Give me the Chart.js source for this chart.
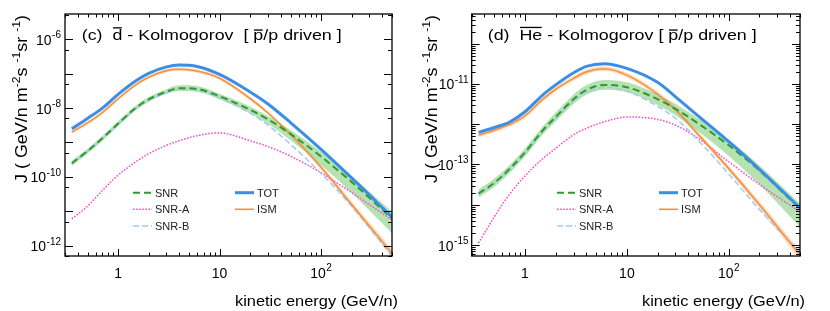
<!DOCTYPE html>
<html>
<head>
<meta charset="utf-8">
<script src="https://cdn.jsdelivr.net/npm/chart.js@4.4.1/dist/chart.umd.min.js"></script>
<style>
  html, body { margin: 0; padding: 0; background: #fff; }
  #wrap { position: relative; width: 830px; height: 311px; }
  .panel { position: absolute; top: 0; width: 415px; height: 311px; }
</style>
</head>
<body>
<div id="wrap">
  <div class="panel" style="left:0"><canvas id="chartC" width="415" height="311"></canvas></div>
  <div class="panel" style="left:415px"><canvas id="chartD" width="415" height="311"></canvas></div>
</div>
<script>
// kinetic energy grid (GeV/n)
const energy = [0.35, 0.5, 0.7, 1, 1.5, 2, 3, 4, 6, 10, 20, 30, 50, 100, 200, 500];

// (c) anti-deuteron, Kolmogorov, pbar/p driven
const dTot   = [2.5e-9, 5.0e-9, 1.0e-8, 2.5e-8, 6.2e-8, 1.02e-7, 1.58e-7, 1.78e-7, 1.62e-7, 9.5e-8, 2.95e-8, 1.32e-8, 3.8e-9, 6.3e-10, 9.3e-11, 6.8e-12];
const dIsm   = [2.0e-9, 3.7e-9, 7.4e-9, 1.86e-8, 4.8e-8, 7.9e-8, 1.23e-7, 1.35e-7, 1.2e-7, 7.4e-8, 1.9e-8, 7.2e-9, 1.74e-9, 1.9e-10, 1.58e-11, 5.9e-13];
const dIsmHi = [2.24e-9, 4.2e-9, 8.3e-9, 2.1e-8, 5.4e-8, 8.9e-8, 1.38e-7, 1.51e-7, 1.35e-7, 8.3e-8, 2.14e-8, 8.1e-9, 1.95e-9, 2.24e-10, 1.95e-11, 7.8e-13];
const dIsmLo = [1.78e-9, 3.3e-9, 6.6e-9, 1.66e-8, 4.3e-8, 7.1e-8, 1.1e-7, 1.2e-7, 1.07e-7, 6.6e-8, 1.7e-8, 6.5e-9, 1.55e-9, 1.62e-10, 1.29e-11, 4.5e-13];
const dSnr   = [2.5e-10, 5.6e-10, 1.32e-9, 3.5e-9, 1.02e-8, 1.78e-8, 3.0e-8, 3.8e-8, 3.6e-8, 2.2e-8, 8.9e-9, 4.7e-9, 1.78e-9, 3.9e-10, 7.1e-11, 6.2e-12];
const dSnrHi = [2.95e-10, 6.6e-10, 1.55e-9, 4.2e-9, 1.2e-8, 2.1e-8, 3.55e-8, 4.6e-8, 4.4e-8, 2.6e-8, 1.1e-8, 5.9e-9, 2.3e-9, 5.4e-10, 1.05e-10, 9.8e-12];
const dSnrLo = [2.1e-10, 4.8e-10, 1.12e-9, 3.0e-9, 8.7e-9, 1.51e-8, 2.6e-8, 3.16e-8, 3.0e-8, 1.82e-8, 7.1e-9, 3.5e-9, 1.17e-9, 2.2e-10, 3.4e-11, 2.3e-12];
const dSnrA  = [6.0e-12, 1.41e-11, 4.0e-11, 1.12e-10, 2.75e-10, 4.7e-10, 8.3e-10, 1.12e-9, 1.58e-9, 1.9e-9, 1.12e-9, 7.6e-10, 4.0e-10, 1.32e-10, 3.5e-11, 5.6e-12];
const dSnrB  = [2.4e-10, 5.4e-10, 1.26e-9, 3.4e-9, 9.8e-9, 1.66e-8, 2.8e-8, 3.5e-8, 3.3e-8, 1.95e-8, 7.1e-9, 3.2e-9, 8.9e-10, 1.26e-10, 1.41e-11, 5.0e-13];

// (d) anti-helium, Kolmogorov, pbar/p driven
const heTot   = [6.3e-13, 8.3e-13, 1.12e-12, 2.04e-12, 5.4e-12, 9.5e-12, 1.9e-11, 2.75e-11, 3.2e-11, 2.45e-11, 1.1e-11, 4.8e-12, 1.62e-12, 3.7e-13, 7.6e-14, 8.3e-15];
const heIsm   = [5.4e-13, 7.1e-13, 9.8e-13, 1.62e-12, 4.2e-12, 7.4e-12, 1.38e-11, 2.0e-11, 2.4e-11, 1.66e-11, 5.6e-12, 2.3e-12, 5.6e-13, 7.9e-14, 1.0e-14, 5.6e-16];
const heIsmHi = [6.2e-13, 8.1e-13, 1.12e-12, 1.86e-12, 4.8e-12, 8.5e-12, 1.58e-11, 2.3e-11, 2.75e-11, 1.9e-11, 6.5e-12, 2.6e-12, 6.5e-13, 9.3e-14, 1.23e-14, 7.4e-16];
const heIsmLo = [4.7e-13, 6.2e-13, 8.5e-13, 1.41e-12, 3.6e-12, 6.5e-12, 1.2e-11, 1.74e-11, 2.1e-11, 1.45e-11, 4.9e-12, 2.0e-12, 4.9e-13, 6.8e-14, 8.1e-15, 4.3e-16];
const heSnr   = [1.9e-14, 3.5e-14, 7.6e-14, 2.0e-13, 7.1e-13, 1.51e-12, 4.2e-12, 7.1e-12, 9.5e-12, 8.3e-12, 4.2e-12, 2.4e-12, 1.05e-12, 3.0e-13, 7.1e-14, 7.9e-15];
const heSnrHi = [2.4e-14, 4.5e-14, 9.5e-14, 2.5e-13, 8.9e-13, 1.95e-12, 5.5e-12, 9.3e-12, 1.26e-11, 1.1e-11, 5.5e-12, 3.2e-12, 1.41e-12, 4.1e-13, 9.5e-14, 1.07e-14];
const heSnrLo = [1.51e-14, 2.8e-14, 6.0e-14, 1.58e-13, 5.6e-13, 1.17e-12, 3.2e-12, 5.4e-12, 7.2e-12, 6.3e-12, 3.0e-12, 1.66e-12, 6.6e-13, 1.62e-13, 3.2e-14, 2.8e-15];
const heSnrA  = [1.12e-15, 5.0e-15, 1.78e-14, 5.2e-14, 1.41e-13, 2.5e-13, 5.5e-13, 7.9e-13, 1.15e-12, 1.51e-12, 1.32e-12, 9.5e-13, 4.5e-13, 1.17e-13, 3.2e-14, 6.6e-15];
const heSnrB  = [1.82e-14, 3.4e-14, 7.2e-14, 1.9e-13, 6.6e-13, 1.41e-12, 3.8e-12, 6.3e-12, 8.3e-12, 6.6e-12, 2.8e-12, 1.41e-12, 4.0e-13, 5.8e-14, 7.6e-15, 6.6e-16];

// tick labels
const xTickVals = [1, 10, 100];
const xTickBase = ['1', '10', '10'];
const xTickExp  = ['', '', '2'];
const dYTickVals  = [1e-12, 1e-10, 1e-8, 1e-6];
const dYTickExp   = ['-12', '-10', '-8', '-6'];
const heYTickVals = [1e-15, 1e-13, 1e-11];
const heYTickExp  = ['-15', '-13', '-11'];

const FONT = '"Liberation Sans", Arial, Helvetica, sans-serif';

function textW(ctx, t, size) {
  ctx.font = size + 'px ' + FONT;
  return ctx.measureText(t).width;
}

// "10" with raised exponent
function drawPow(ctx, base, exp, x, y, align) {
  const wb = textW(ctx, base, 14);
  const we = exp ? textW(ctx, exp, 10) + 0.5 : 0;
  const w = wb + we;
  const x0 = align === 'right' ? x - w : x - w / 2;
  ctx.textAlign = 'left';
  ctx.textBaseline = 'alphabetic';
  ctx.font = '14px ' + FONT;
  ctx.fillText(base, x0, y);
  if (exp) {
    ctx.font = '10px ' + FONT;
    ctx.fillText(exp, x0 + wb + 0.5, y - 6.5);
  }
}

// text made of pieces (superscripts, overlines), stretched to a target length
function drawRich(ctx, parts, x, y, size, targetW, rotate) {
  let nat = 0;
  parts.forEach(p => { p.w = textW(ctx, p.t, p.sup ? size * 0.68 : size); nat += p.w; });
  const sx = targetW ? targetW / nat : 1;
  ctx.save();
  ctx.translate(x, y);
  if (rotate) ctx.rotate(-Math.PI / 2);
  ctx.scale(sx, 1);
  ctx.textAlign = 'left';
  ctx.textBaseline = 'alphabetic';
  let cx = 0;
  parts.forEach(p => {
    ctx.font = (p.sup ? size * 0.68 : size) + 'px ' + FONT;
    ctx.fillText(p.t, cx, p.sup ? -size * 0.42 : 0);
    if (p.bar) ctx.fillRect(cx + 0.5, -p.bar, p.w - 1, 1.3);
    cx += p.w;
  });
  ctx.restore();
}

function rootPlugin(cfg) {
  return {
    id: 'rootFrame',
    afterDraw(chart) {
      const { ctx, chartArea: a, scales: { x, y } } = chart;
      ctx.save();
      ctx.fillStyle = '#000';
      ctx.strokeStyle = '#000';

      // inward ticks on all four sides
      ctx.lineWidth = 1;
      ctx.beginPath();
      for (let d = -1; d <= 2; d++) {
        for (let k = 1; k <= 9; k++) {
          const v = k * Math.pow(10, d);
          if (v < x.min || v > x.max) continue;
          const px = Math.round(x.getPixelForValue(v)) + 0.5;
          const len = k === 1 ? 7 : 3.5;
          ctx.moveTo(px, a.bottom); ctx.lineTo(px, a.bottom - len);
          ctx.moveTo(px, a.top); ctx.lineTo(px, a.top + len);
        }
      }
      for (let d = cfg.decLo; d <= cfg.decHi; d++) {
        [1].concat(cfg.yMinor).forEach(k => {
          const v = k * Math.pow(10, d);
          if (v < y.min || v > y.max) return;
          const py = Math.round(y.getPixelForValue(v)) + 0.5;
          const len = k === 1 ? 8 : 4;
          ctx.moveTo(a.left, py); ctx.lineTo(a.left + len, py);
          ctx.moveTo(a.right, py); ctx.lineTo(a.right - len, py);
        });
      }
      ctx.stroke();

      ctx.lineWidth = 1.3;
      ctx.strokeRect(a.left, a.top, a.right - a.left, a.bottom - a.top);

      // tick labels
      xTickVals.forEach((v, i) => {
        drawPow(ctx, xTickBase[i], xTickExp[i], x.getPixelForValue(v), 277.5, 'center');
      });
      cfg.yTickVals.forEach((v, i) => {
        drawPow(ctx, '10', cfg.yTickExp[i], cfg.yLabelRight, y.getPixelForValue(v) + 5.5, 'right');
      });

      // axis titles
      const xt = [{ t: 'kinetic energy (GeV/n)' }];
      drawRich(ctx, xt, cfg.xTitleRight - 163, 306, 15, 163, false);
      const yt = [
        { t: 'J ( GeV/n m' }, { t: '-2', sup: true }, { t: 's ' }, { t: '-1', sup: true },
        { t: 'sr ' }, { t: '-1', sup: true }, { t: ')' }
      ];
      drawRich(ctx, yt, cfg.yTitleX, 183, 17, 168, true);

      // panel title
      drawRich(ctx, cfg.title, cfg.titleX, 40, 15, cfg.titleW, false);

      // legend
      const ds = chart.data.datasets;
      cfg.legend.forEach(e => {
        const d = ds.find(s => s.label === e.label);
        ctx.save();
        ctx.strokeStyle = d.borderColor;
        ctx.lineWidth = d.borderWidth;
        ctx.setLineDash(d.borderDash);
        ctx.beginPath();
        ctx.moveTo(e.x, e.y); ctx.lineTo(e.x + 19, e.y);
        ctx.stroke();
        ctx.restore();
        ctx.font = '11px ' + FONT;
        ctx.fillStyle = '#222';
        ctx.textAlign = 'left';
        ctx.fillText(e.label, e.x + 22, e.y + 4);
      });
      ctx.restore();
    }
  };
}

function buildChart(id, c) {
  const pts = arr => energy.map((e, i) => ({ x: e, y: arr[i] }));
  const line = (label, arr, color, width, dash) => ({
    label, data: pts(arr), borderColor: color, borderWidth: width, borderDash: dash || [],
    pointRadius: 0, fill: false, cubicInterpolationMode: 'monotone'
  });
  const band = (label, arr, color, toNext) => ({
    label, data: pts(arr), borderColor: 'rgba(0,0,0,0)', borderWidth: 1, backgroundColor: color || 'rgba(0,0,0,0)',
    pointRadius: 0, fill: toNext ? '+1' : false, cubicInterpolationMode: 'monotone'
  });
  return new Chart(document.getElementById(id), {
    type: 'line',
    data: {
      datasets: [
        line('TOT', c.tot, '#3a8ee6', 3),
        line('SNR', c.snr, '#2f9a2f', 2, [7, 4]),
        line('ISM', c.ism, '#f5923e', 1.6),
        line('SNR-B', c.snrB, '#9fcaf5', 1.5, [6, 3]),
        line('SNR-A', c.snrA, '#ff3fcf', 1.5, [1.5, 1.6]),
        band('SNR band', c.snrHi, 'rgba(110,195,100,0.5)', true),
        band('SNR band low', c.snrLo, null, false),
        band('ISM band', c.ismHi, 'rgba(250,180,120,0.45)', true),
        band('ISM band low', c.ismLo, null, false)
      ]
    },
    options: {
      responsive: false,
      animation: false,
      devicePixelRatio: 1,
      layout: { padding: { left: c.area[0], right: 415 - c.area[1], top: 14, bottom: 311 - 256 } },
      plugins: { legend: { display: false }, tooltip: { enabled: false } },
      scales: {
        x: { type: 'logarithmic', min: 0.347, max: 500, display: false },
        y: { type: 'logarithmic', min: c.yMin, max: c.yMax, display: false }
      }
    },
    plugins: [rootPlugin(c)]
  });
}

buildChart('chartC', {
  tot: dTot, ism: dIsm, ismHi: dIsmHi, ismLo: dIsmLo, snr: dSnr, snrHi: dSnrHi, snrLo: dSnrLo, snrA: dSnrA, snrB: dSnrB,
  area: [65, 392], yMin: 5.0e-13, yMax: 5.45e-6, decLo: -13, decHi: -6, yMinor: [5],
  yTickVals: dYTickVals, yTickExp: dYTickExp, yLabelRight: 61, yTitleX: 27, xTitleRight: 398,
  titleX: 81.7, titleW: 260,
  title: [{ t: '(c)  ' }, { t: 'd', bar: 12.8 }, { t: ' - Kolmogorov  [ ' }, { t: 'p', bar: 10.6 }, { t: '/p driven ]' }],
  legend: [
    { label: 'SNR', x: 133, y: 192.7 }, { label: 'SNR-A', x: 133, y: 209.3 }, { label: 'SNR-B', x: 133, y: 226 },
    { label: 'TOT', x: 235, y: 192.7 }, { label: 'ISM', x: 235, y: 209.3 }
  ]
});

buildChart('chartD', {
  tot: heTot, ism: heIsm, ismHi: heIsmHi, ismLo: heIsmLo, snr: heSnr, snrHi: heSnrHi, snrLo: heSnrLo, snrA: heSnrA, snrB: heSnrB,
  area: [56.7, 385], yMin: 5.33e-16, yMax: 5.48e-10, decLo: -16, decHi: -10, yMinor: [2, 3, 4, 5, 6, 7, 8, 9],
  yTickVals: heYTickVals, yTickExp: heYTickExp, yLabelRight: 53.5, yTitleX: 22, xTitleRight: 390,
  titleX: 72.7, titleW: 269,
  title: [{ t: '(d)  ' }, { t: 'He', bar: 13.2 }, { t: ' - Kolmogorov [ ' }, { t: 'p', bar: 10.6 }, { t: '/p driven ]' }],
  legend: [
    { label: 'SNR', x: 142, y: 192.7 }, { label: 'SNR-A', x: 142, y: 209.3 }, { label: 'SNR-B', x: 142, y: 226 },
    { label: 'TOT', x: 244, y: 192.7 }, { label: 'ISM', x: 244, y: 209.3 }
  ]
});
</script>
</body>
</html>
